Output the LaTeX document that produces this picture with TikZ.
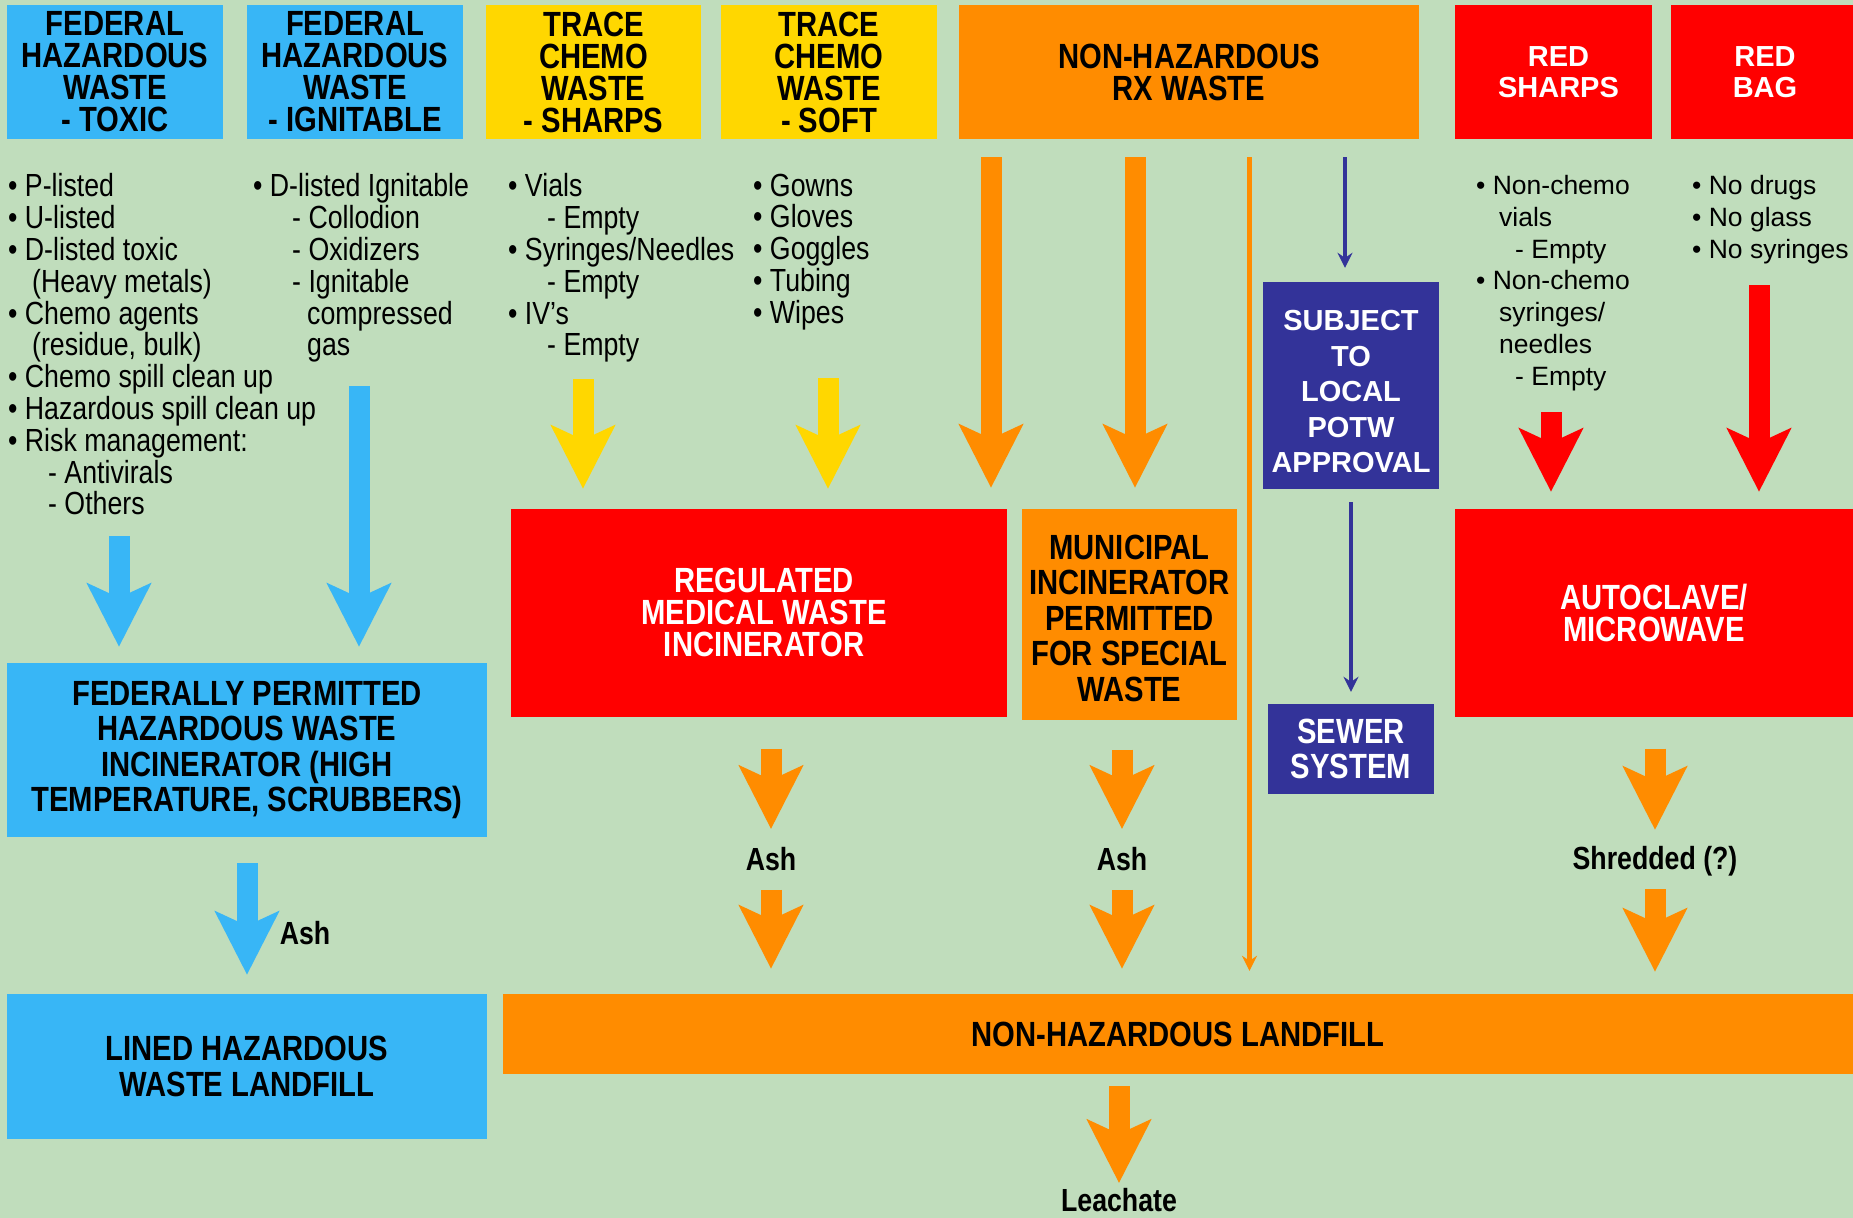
\documentclass[tikz,border=0pt]{standalone}
\usepackage{fontspec}
\setmainfont{Liberation Sans}
\newfontfamily\narrowsf[FakeStretch=0.835]{Liberation Sans}
\usetikzlibrary{arrows.meta,positioning}
\definecolor{hazBlue}{RGB}{56,182,246}
\definecolor{traceYellow}{RGB}{255,215,0}
\definecolor{rxOrange}{RGB}{255,140,0}
\definecolor{rmwRed}{RGB}{255,0,0}
\definecolor{potwNavy}{RGB}{51,51,153}
\definecolor{bgGreen}{RGB}{192,221,188}
\tikzset{
  hdr/.style={inner sep=0pt, align=center, font=\narrowsf\bfseries\fontsize{35}{32}\selectfont},
  hdrwide/.style={inner sep=0pt, align=center, text=white, font=\bfseries\fontsize{29}{31}\selectfont},
  tall/.style={font=\narrowsf\bfseries\fontsize{35}{35.5}\selectfont},
  lst/.style={anchor=north west, inner sep=0pt, align=left, font=\narrowsf\fontsize{32}{31.8}\selectfont},
  lstwide/.style={anchor=north west, inner sep=0pt, align=left, font=\fontsize{26.5}{31.8}\selectfont},
  lbl/.style={inner sep=0pt, font=\narrowsf\bfseries\fontsize{32}{32}\selectfont},
  fat/.style={line width=21pt, -{Stealth[length=63pt, width=63pt, inset=14pt]}},
  slim/.style={line width=5pt, -{Stealth[length=15pt, width=15pt, inset=5pt]}}
}
\newcommand{\bul}{\textbullet\ }

\begin{document}
\begin{tikzpicture}[x=1pt,y=-1pt]
  \fill[bgGreen] (0,0) rectangle (1853,1218);
  \useasboundingbox (0,0) rectangle (1853,1218);

  % waste streams
  \node[hdr, fill=hazBlue, minimum width=216pt, minimum height=134pt] (toxic) at (115,72) {FEDERAL\\HAZARDOUS\\WASTE\\- TOXIC};
  \node[hdr, fill=hazBlue, minimum width=216pt, minimum height=134pt] (ignit) at (355,72) {FEDERAL\\HAZARDOUS\\WASTE\\- IGNITABLE};
  \node[hdr, fill=traceYellow, minimum width=215pt, minimum height=134pt] (tsharps) at (593.5,72) {TRACE\\CHEMO\\WASTE\\- SHARPS};
  \node[hdr, fill=traceYellow, minimum width=216pt, minimum height=134pt] (tsoft) at (829,72) {TRACE\\CHEMO\\WASTE\\- SOFT};
  \node[hdr, fill=rxOrange, minimum width=460pt, minimum height=134pt] (rx) at (1189,72) {NON-HAZARDOUS\\RX WASTE};
  \node[hdrwide, fill=rmwRed, minimum width=197pt, minimum height=134pt] (rsharps) at (1553.5,72) {\hspace*{10pt}RED\\\hspace*{10pt}SHARPS};
  \node[hdrwide, fill=rmwRed, minimum width=182pt, minimum height=134pt] (rbag) at (1762,72) {\hspace*{6pt}RED\\\hspace*{6pt}BAG};

  % contents
  \node[lst] (toxlist) at (8,173.5) {\bul P-listed\\\bul U-listed\\\bul D-listed toxic\\\hspace*{24pt}(Heavy metals)\\\bul Chemo agents\\\hspace*{24pt}(residue, bulk)\\\bul Chemo spill clean up\\\bul Hazardous spill clean up\\\bul Risk management:\\\hspace*{40pt}- Antivirals\\\hspace*{40pt}- Others};
  \node[lst] (ignlist) at (253,173.5) {\bul D-listed Ignitable\\\hspace*{39pt}- Collodion\\\hspace*{39pt}- Oxidizers\\\hspace*{39pt}- Ignitable\\\hspace*{54pt}compressed\\\hspace*{54pt}gas};
  \node[lst] (shlist) at (508,173.5) {\bul Vials\\\hspace*{39pt}- Empty\\\bul Syringes/Needles\\\hspace*{39pt}- Empty\\\bul IV’s\\\hspace*{39pt}- Empty};
  \node[lst] (sflist) at (753,173.5) {\bul Gowns\\\bul Gloves\\\bul Goggles\\\bul Tubing\\\bul Wipes};
  \node[lstwide] (rslist) at (1476,175) {\bul Non-chemo\\\hspace*{23pt}vials\\\hspace*{39pt}- Empty\\\bul Non-chemo\\\hspace*{23pt}syringes/\\\hspace*{23pt}needles\\\hspace*{39pt}- Empty};
  \node[lstwide] (rblist) at (1692,175) {\bul No drugs\\\bul No glass\\\bul No syringes};

  % treatment
  \node[hdr, tall, fill=hazBlue, minimum width=480pt, minimum height=174pt] (fedinc) at (247,750) {FEDERALLY PERMITTED\\HAZARDOUS WASTE\\INCINERATOR (HIGH\\TEMPERATURE, SCRUBBERS)};
  \node[hdr, fill=rmwRed, text=white, minimum width=496pt, minimum height=207.5pt] (regmed) at (759,612.75) {\hspace*{10pt}REGULATED\\\hspace*{10pt}MEDICAL WASTE\\\hspace*{10pt}INCINERATOR};
  \node[hdr, tall, fill=rxOrange, minimum width=215pt, minimum height=210.5pt] (munic) at (1129.5,614.25) {\rule{0pt}{32pt}MUNICIPAL\\INCINERATOR\\PERMITTED\\FOR SPECIAL\\WASTE};
  \node[hdrwide, font=\bfseries\fontsize{29}{35.5}\selectfont, fill=potwNavy, minimum width=176pt, minimum height=207pt] (potw) at (1351,385.5) {\rule{0pt}{33pt}SUBJECT\\TO\\LOCAL\\POTW\\APPROVAL};
  \node[hdr, tall, fill=potwNavy, text=white, minimum width=166pt, minimum height=90pt] (sewer) at (1351,749) {SEWER\\SYSTEM};
  \node[hdr, fill=rmwRed, text=white, minimum width=398pt, minimum height=207.5pt] (autocl) at (1654,612.75) {AUTOCLAVE/\\MICROWAVE};

  % disposal
  \node[hdr, tall, fill=hazBlue, minimum width=480pt, minimum height=145pt] (lined) at (247,1066.5) {LINED HAZARDOUS\\WASTE LANDFILL};
  \node[hdr, fill=rxOrange, minimum width=1350pt, minimum height=80pt] (ndfill) at (1178,1034) {NON-HAZARDOUS LANDFILL};

  \node[lbl] (ashB) at (305,933) {Ash};
  \node[lbl] (ashA) at (771,859) {Ash};
  \node[lbl] (ashC) at (1122,859) {Ash};
  \node[lbl] (shred) at (1655,861) {Shredded (?)};
  \node[lbl] (leach) at (1119,1200) {Leachate};

  \coordinate (toxA) at (119,536);
  \coordinate (ignA) at (359,386);
  \coordinate (shA) at (583,379);
  \coordinate (sfA) at (828,378);
  \coordinate (rxA1) at (991,157);
  \coordinate (rxA2) at (1135,157);
  \coordinate (rxA3) at (1249.5,157);
  \coordinate (potwA) at (1345,157);
  \coordinate (rsA) at (1551,412);
  \coordinate (rbA) at (1759,285);

  \draw[fat, hazBlue, shorten >=16pt] (toxA) -- (toxA |- fedinc.north);
  \draw[fat, hazBlue, shorten >=16pt] (ignA) -- (ignA |- fedinc.north);
  \draw[fat, hazBlue, shorten <=26pt, shorten >=19pt] (fedinc.south) -- (lined.north);
  \draw[fat, traceYellow, shorten >=20pt] (shA) -- (shA |- regmed.north);
  \draw[fat, traceYellow, shorten >=20pt] (sfA) -- (sfA |- regmed.north);
  \draw[fat, rxOrange, shorten >=21pt] (rxA1) -- (rxA1 |- regmed.north);
  \draw[fat, rxOrange, shorten >=21pt] (rxA2) -- (rxA2 |- munic.north);
  \draw[slim, rxOrange, line width=5.5pt, shorten >=23pt] (rxA3) -- (rxA3 |- ndfill.north);
  \draw[slim, potwNavy, line width=4.5pt, shorten >=14pt] (potwA) -- (potwA |- potw.north);
  \draw[slim, potwNavy, line width=4.5pt, shorten <=13pt, shorten >=12pt] (potw.south) -- (sewer.north);
  \draw[fat, rmwRed, shorten >=17pt] (rsA) -- (rsA |- autocl.north);
  \draw[fat, rmwRed, shorten >=17pt] (rbA) -- (rbA |- autocl.north);

  \draw[fat, rxOrange, shorten <=32pt, shorten >=18pt] (regmed.south -| ashA) -- (ashA.north);
  \draw[fat, rxOrange, shorten <=19pt, shorten >=25pt] (ashA.south) -- (ashA |- ndfill.north);
  \draw[fat, rxOrange, shorten <=30pt, shorten >=18pt] (munic.south -| ashC) -- (ashC.north);
  \draw[fat, rxOrange, shorten <=19pt, shorten >=25pt] (ashC.south) -- (ashC |- ndfill.north);
  \draw[fat, rxOrange, shorten <=32pt, shorten >=16pt] (autocl.south -| shred) -- (shred.north);
  \draw[fat, rxOrange, shorten <=13pt, shorten >=22pt] (shred.south) -- (shred |- ndfill.north);
  \draw[fat, rxOrange, shorten <=12pt, shorten >=5pt] (ndfill.south -| leach) -- (leach.north);
\end{tikzpicture}
\end{document}
